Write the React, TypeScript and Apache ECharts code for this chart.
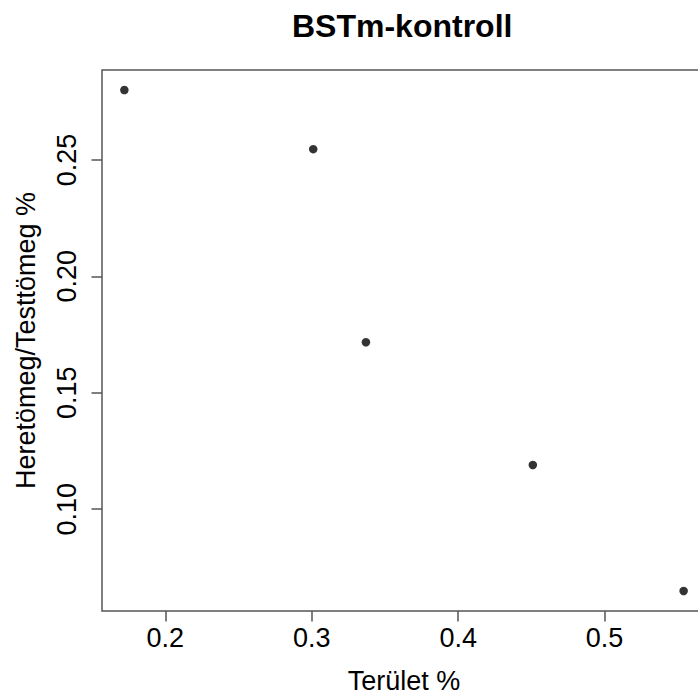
import React, { useEffect, useRef } from "react";
import * as echarts from "echarts";

const chartTitle = "BSTm-kontroll";
const xAxisTitle = "Terület %";
const yAxisTitle = "Heretömeg/Testtömeg %";

const xValues = [0.172, 0.301, 0.337, 0.451, 0.554];
const yValues = [0.28, 0.2546, 0.1717, 0.119, 0.0649];

const xTickValues = [0.2, 0.3, 0.4, 0.5];
const xTickLabels = ["0.2", "0.3", "0.4", "0.5"];
const yTickValues = [0.1, 0.15, 0.2, 0.25];
const yTickLabels = ["0.10", "0.15", "0.20", "0.25"];

const FONT = "'Liberation Sans', Arial, sans-serif";
const BOX = "#555555";

function rRange(vals: number[]): [number, number] {
  const lo = Math.min(...vals);
  const hi = Math.max(...vals);
  const ext = (hi - lo) * 0.04;
  return [lo - ext, hi + ext];
}

function labelFor(values: number[], labels: string[]) {
  return (v: number) => {
    const i = values.findIndex((t) => Math.abs(t - v) < 1e-9);
    return i >= 0 ? labels[i] : "";
  };
}

export default function App() {
  const ref = useRef<HTMLDivElement>(null);
  useEffect(() => {
    if (!ref.current) return;
    const chart = echarts.init(ref.current, null, { renderer: "svg" });
    const [xMin, xMax] = rRange(xValues);
    const [yMin, yMax] = rRange(yValues);
    chart.setOption({
      animation: false,
      backgroundColor: "#ffffff",
      title: {
        text: chartTitle,
        left: 292,
        top: 10,
        padding: 0,
        textStyle: {
          fontFamily: FONT,
          fontWeight: "bold",
          fontSize: 32,
          color: "#000",
        },
      },
      grid: {
        left: 102,
        top: 70,
        width: 604,
        height: 541,
        outerBoundsMode: "none",
        containLabel: false,
        show: true,
        borderColor: BOX,
        borderWidth: 1.5,
        backgroundColor: "transparent",
      },
      xAxis: {
        type: "value",
        min: xMin,
        max: xMax,
        name: xAxisTitle,
        nameLocation: "middle",
        nameGap: 56,
        nameTextStyle: { fontFamily: FONT, fontSize: 27, color: "#000" },
        axisLine: { show: false },
        splitLine: { show: false },
        axisTick: {
          show: true,
          length: 10.5,
          customValues: xTickValues,
          lineStyle: { color: BOX, width: 1.5 },
        },
        axisLabel: {
          customValues: xTickValues,
          margin: 13,
          fontFamily: FONT,
          fontSize: 27,
          color: "#000",
          formatter: labelFor(xTickValues, xTickLabels),
        },
      },
      yAxis: {
        type: "value",
        min: yMin,
        max: yMax,
        name: yAxisTitle,
        nameLocation: "middle",
        nameGap: 63,
        nameRotate: 90,
        nameTextStyle: { fontFamily: FONT, fontSize: 27, color: "#000" },
        axisLine: { show: false },
        splitLine: { show: false },
        axisTick: {
          show: true,
          length: 10.5,
          customValues: yTickValues,
          lineStyle: { color: BOX, width: 1.5 },
        },
        axisLabel: {
          customValues: yTickValues,
          rotate: 90,
          margin: 22,
          fontFamily: FONT,
          fontSize: 27,
          color: "#000",
          formatter: labelFor(yTickValues, yTickLabels),
        },
      },
      series: [
        {
          type: "scatter",
          data: xValues.map((x, i) => [x, yValues[i]]),
          symbol: "circle",
          symbolSize: 8.5,
          itemStyle: { color: "#000" },
        },
      ],
    });
    return () => chart.dispose();
  }, []);
  return (
    <div
      ref={ref}
      style={{ position: "absolute", left: 0, top: 0, width: 698, height: 695 }}
    />
  );
}
